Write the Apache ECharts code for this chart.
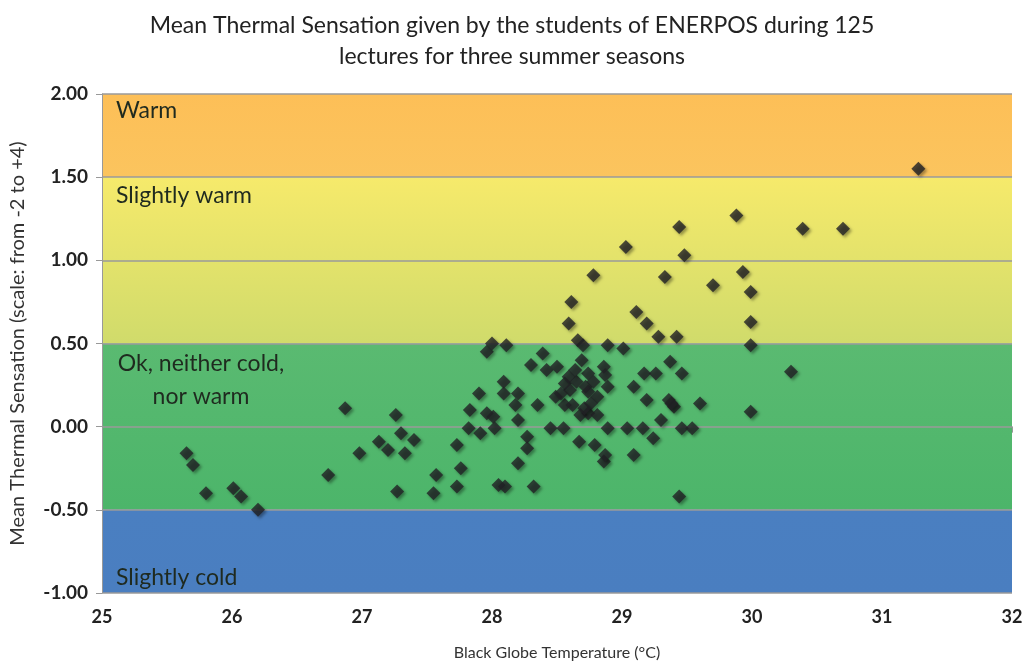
<!DOCTYPE html>
<html>
<head>
<meta charset="utf-8">
<script src="https://cdn.jsdelivr.net/npm/echarts@6/dist/echarts.min.js"></script>
<style>
    html, body {margin: 0; padding: 0; background: #fff;}
    #thermal {width: 1024px; height: 664px;}
</style>
</head>
<body>
<div id="thermal"></div>
<script>
// black globe temperature (°C) for each lecture
var globeTemp = [
    25.65, 25.70, 25.80, 26.01, 26.07, 26.20, 26.74, 26.87, 26.98, 27.13,
    27.20, 27.26, 27.27, 27.30, 27.33, 27.40, 27.55, 27.57, 27.73, 27.73,
    27.76, 27.82, 27.83, 27.90, 27.91, 27.96, 27.96, 28.00, 28.01, 28.02,
    28.05, 28.09, 28.09, 28.10, 28.11, 28.18, 28.20, 28.20, 28.20, 28.27,
    28.27, 28.30, 28.32, 28.35, 28.39, 28.42, 28.45, 28.49, 28.50, 28.55,
    28.56, 28.56, 28.59, 28.59, 28.61, 28.62, 28.65, 28.66, 28.67, 28.68,
    28.69, 28.70, 28.72, 28.74, 28.74, 28.74, 28.78, 28.78, 28.79, 28.81,
    28.81, 28.86, 28.86, 28.87, 28.87, 28.89, 28.89, 28.89, 29.01, 29.03,
    29.04, 29.09, 29.09, 29.11, 29.16, 29.17, 29.19, 29.19, 29.24, 29.26,
    29.28, 29.30, 29.33, 29.36, 29.37, 29.40, 29.42, 29.44, 29.44, 29.46,
    29.46, 29.48, 29.54, 29.60, 29.70, 29.88, 29.93, 29.99, 29.99, 29.99,
    29.99, 30.30, 30.39, 30.70, 31.28,
    28.60, 28.76, 28.64, 28.53, 29.38, 28.71
];
// mean thermal sensation, same order
var sensation = [
    -0.16, -0.23, -0.40, -0.37, -0.42, -0.50, -0.29, 0.11, -0.16, -0.09,
    -0.14, 0.07, -0.39, -0.04, -0.16, -0.08, -0.40, -0.29, -0.11, -0.36,
    -0.25, -0.01, 0.10, 0.20, -0.04, 0.45, 0.08, 0.50, 0.06, -0.01,
    -0.35, 0.27, 0.20, -0.36, 0.49, 0.13, 0.20, 0.04, -0.22, -0.06,
    -0.13, 0.37, -0.36, 0.13, 0.44, 0.34, -0.01, 0.18, 0.36, -0.01,
    0.26, 0.13, 0.30, 0.62, 0.75, 0.13, 0.27, 0.52, -0.09, 0.07,
    0.40, 0.49, 0.24, 0.32, 0.21, 0.08, 0.27, 0.91, -0.11, 0.18,
    0.07, 0.36, -0.21, 0.31, -0.17, 0.49, 0.24, -0.01, 0.47, 1.08,
    -0.01, 0.24, -0.17, 0.69, -0.01, 0.32, 0.62, 0.16, -0.07, 0.32,
    0.54, 0.04, 0.90, 0.16, 0.39, 0.12, 0.54, 1.20, -0.42, 0.32,
    -0.01, 1.03, -0.01, 0.14, 0.85, 1.27, 0.93, 0.81, 0.63, 0.49,
    0.09, 0.33, 1.19, 1.19, 1.55,
    0.22, 0.14, 0.34, 0.20, 0.14, 0.11
];

// comfort bands (y ranges) and their labels
var bandNames = ['Warm', 'Slightly warm', 'Ok, neither cold,\nnor warm', 'Slightly cold'];
var bandFrom = [1.5, 0.5, -0.5, -1.0];
var bandTo = [2.0, 1.5, 0.5, -0.5];
var bandTopColor = ['#fdbf57', '#f6ea6b', '#5aba71', '#4a7fc1'];
var bandBottomColor = ['#fbc45e', '#d0db6b', '#4cb56a', '#4a7ec0'];

var xTicks = [25, 26, 27, 28, 29, 30, 31, 32];

function render_thermal(divId) {
    var myChart = echarts.init(document.getElementById(divId));

    var points = globeTemp.map(function (t, i) {
        return [t, sensation[i]];
    });

    // where each band's text sits inside its band
    var bandLabelPos = [
        {position: [14, 2]},
        {position: [14, 3]},
        {position: [99, 4], align: 'center', lineHeight: 33},
        {position: [14, 53]}
    ];

    var areas = bandNames.map(function (name, i) {
        var lbl = {
            show: true,
            color: '#1f2a1f',
            fontSize: 23,
            lineHeight: 30,
            fontFamily: 'Lato, "Open Sans", sans-serif'
        };
        Object.assign(lbl, bandLabelPos[i]);
        return [{
            name: name,
            yAxis: bandFrom[i],
            xAxis: 25,
            itemStyle: {
                color: {
                    type: 'linear', x: 0, y: 0, x2: 0, y2: 1,
                    colorStops: [
                        {offset: 0, color: bandTopColor[i]},
                        {offset: 1, color: bandBottomColor[i]}
                    ]
                }
            },
            label: lbl
        }, {
            yAxis: bandTo[i],
            xAxis: 32
        }];
    });

    var option = {
        animation: false,
        textStyle: {fontFamily: 'Lato, "Open Sans", sans-serif'},
        title: {
            text: 'Mean Thermal Sensation given by the students of ENERPOS during 125\nlectures for three summer seasons',
            left: 'center',
            top: 5,
            textStyle: {
                fontSize: 23,
                fontWeight: 'normal',
                color: '#222',
                lineHeight: 31,
                fontFamily: 'Lato, "Open Sans", sans-serif'
            }
        },
        grid: {
            left: 102,
            right: 12,
            top: 94,
            bottom: 71,
            outerBoundsMode: 'none'
        },
        xAxis: {
            type: 'value',
            min: 25,
            max: 32,
            interval: 1,
            name: 'Black Globe Temperature (°C)',
            nameLocation: 'middle',
            nameGap: 52,
            nameTextStyle: {fontSize: 16, color: '#333'},
            axisLine: {show: true, lineStyle: {color: '#999'}},
            axisTick: {show: true, length: 6, lineStyle: {color: '#999'}},
            axisLabel: {
                fontSize: 18,
                fontWeight: 'bold',
                color: '#222',
                margin: 15,
                formatter: function (v) {
                    return xTicks.indexOf(v) >= 0 ? String(v) : '';
                }
            },
            splitLine: {show: false}
        },
        yAxis: {
            type: 'value',
            min: -1,
            max: 2,
            interval: 0.5,
            name: 'Mean Thermal Sensation (scale: from -2 to +4)',
            nameLocation: 'middle',
            nameGap: 74,
            nameTextStyle: {fontSize: 20, color: '#333'},
            axisLine: {show: true, lineStyle: {color: '#999'}},
            axisTick: {show: true, length: 6, lineStyle: {color: '#999'}},
            axisLabel: {
                fontSize: 19,
                fontWeight: 'bold',
                color: '#222',
                margin: 14,
                formatter: function (v) {
                    return v.toFixed(2);
                }
            },
            splitLine: {show: true, lineStyle: {color: '#9a9a9a', width: 1.5}},
            z: 3
        },
        series: [{
            name: 'Mean Thermal Sensation',
            type: 'scatter',
            symbol: 'diamond',
            symbolSize: 14,
            z: 5,
            itemStyle: {
                color: '#222226',
                shadowBlur: 3,
                shadowColor: 'rgba(0,0,0,0.45)',
                shadowOffsetX: 2,
                shadowOffsetY: 2
            },
            data: points,
            markArea: {
                silent: true,
                z: 1,
                data: areas
            }
        }]
    };

    myChart.setOption(option);
}

render_thermal('thermal');
</script>
</body>
</html>
